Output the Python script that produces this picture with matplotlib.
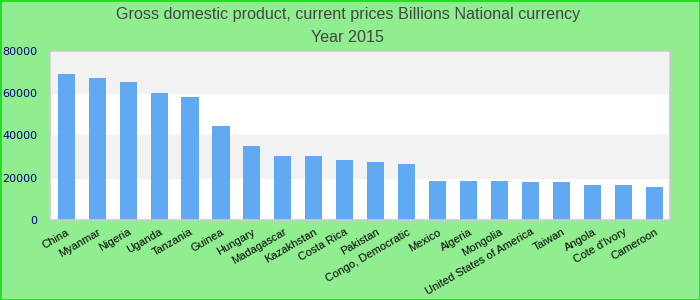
import matplotlib
matplotlib.use("Agg")
import matplotlib.pyplot as plt
import matplotlib.transforms as mtransforms

# --- Data ---
countries = ["China", "Myanmar", "Nigeria", "Uganda", "Tanzania", "Guinea", "Hungary",
             "Madagascar", "Kazakhstan", "Costa Rica", "Pakistan", "Congo, Democratic",
             "Mexico", "Algeria", "Mongolia", "United States of America", "Taiwan",
             "Angola", "Cote d'Ivory", "Cameroon"]
gdp = [69100, 67200, 65300, 60100, 58200, 44500, 35000,
       30300, 30300, 28400, 27400, 26500,
       18500, 18500, 18500, 18000, 18000,
       16600, 16600, 15600]
yticks = [0, 20000, 40000, 60000, 80000]

# --- Figure ---
fig = plt.figure(figsize=(7, 3), dpi=100, facecolor="#90EE90")
fig.patches.append(plt.Rectangle((0, 0), 1, 1, transform=fig.transFigure,
                                 fill=False, edgecolor="#22DD22", linewidth=2))
ax = fig.add_axes([0.0714, 0.2667, 0.886, 0.5633])
ax.set_facecolor("white")

# alternating bands
for i in range(len(yticks) - 1):
    if i % 2 == 1:
        ax.axhspan(yticks[i], yticks[i + 1], color="#F2F2F2", zorder=0)

x = range(len(countries))
ax.bar(x, gdp, width=0.55, color="#62A9F4", zorder=2)

ax.set_xlim(-0.52, len(countries) - 0.5)
ax.set_ylim(0, 80000)
ax.set_yticks(yticks)
ax.set_yticklabels([str(v) for v in yticks], color="#000080",
                   fontsize=8, family="DejaVu Sans")
ax.set_xticks(list(x))
ax.set_xticklabels(countries, rotation=30, ha="right", rotation_mode="anchor",
                   fontsize=8, family="Liberation Sans", color="black")
# nudge category labels a bit to the left of their ticks
shift = mtransforms.ScaledTranslation(-5 / 100, 0, fig.dpi_scale_trans)
for lbl in ax.get_xticklabels():
    lbl.set_transform(lbl.get_transform() + shift)
ax.tick_params(axis="both", length=0)
ax.tick_params(axis="x", pad=5)
ax.tick_params(axis="y", pad=9)
for s in ax.spines.values():
    s.set_color("#CCCCCC")
    s.set_linewidth(1.2)

fig.text(0.497, 0.952, "Gross domestic product, current prices Billions National currency",
         ha="center", va="center", fontsize=11.6, color="#444444", family="Liberation Sans")
fig.text(0.497, 0.874, "Year 2015", ha="center", va="center",
         fontsize=11.6, color="#444444", family="Liberation Sans")

fig.savefig("out.png", dpi=100, facecolor=fig.get_facecolor())
